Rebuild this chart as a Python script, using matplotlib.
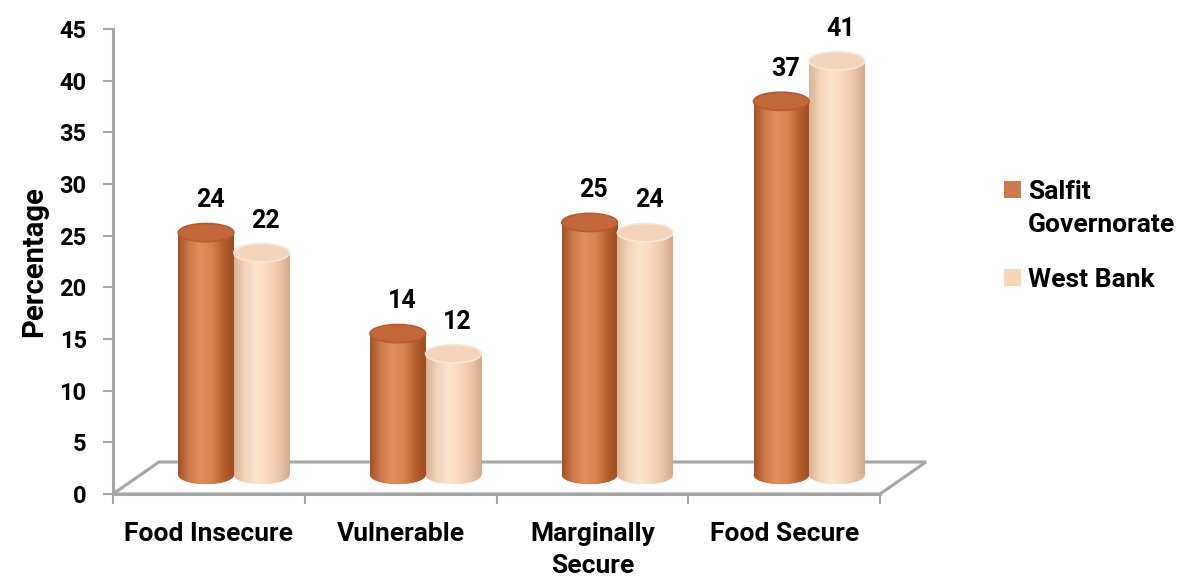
import matplotlib
matplotlib.use("Agg")
import numpy as np
import matplotlib.pyplot as plt
import matplotlib.patches as patches
from matplotlib.colors import LinearSegmentedColormap

categories = ["Food Insecure", "Vulnerable", "Marginally\nSecure", "Food Secure"]
series = ["Salfit\nGovernorate", "West Bank"]
salfit = [24, 14, 25, 37]
west_bank = [22, 12, 24, 41]
yticks = [0, 5, 10, 15, 20, 25, 30, 35, 40, 45]

FONT = "Roboto"
GRAY = "#a6a6a6"

# shading across each cylinder, left edge -> right edge
cmaps = [
    LinearSegmentedColormap.from_list("salfit", ["#a3522a", "#cf7a48", "#e08f5c", "#d98350", "#b9612f", "#9c4c24"]),
    LinearSegmentedColormap.from_list("wb", ["#d9b396", "#f3d3b8", "#fde4cd", "#f8dac0", "#ebc7aa", "#d2aa8c"]),
]
top_colors = ["#c4673a", "#f4d4ba"]
top_edges = ["#b45c30", "#fbe6d4"]
legend_colors = ["#cd7a4c", "#fbd5b5"]

W, H, DPI = 1187, 581, 100
fig = plt.figure(figsize=(W / DPI, H / DPI), dpi=DPI)

# front axis (ticks, floor)
ax = fig.add_axes([113 / W, 87 / H, 767 / W, 465 / H])
ax.set_xlim(0, 4)
ax.set_ylim(0, 45)
for s in ("top", "right"):
    ax.spines[s].set_visible(False)
for s in ("left", "bottom"):
    ax.spines[s].set_color(GRAY)
    ax.spines[s].set_linewidth(2.2)
ax.set_yticks(yticks)
ax.set_yticklabels([str(t) for t in yticks], fontsize=17, fontweight="bold", family=FONT)
ax.set_xticks(range(len(categories) + 1))
ax.set_xticklabels([])
ax.set_xticks(np.arange(len(categories)) + 0.5, categories, minor=True)
ax.tick_params(axis="both", which="major", color=GRAY, width=1.5, length=7)
ax.tick_params(axis="y", pad=12)
ax.tick_params(axis="x", which="minor", length=0, pad=20)
for lbl in ax.get_xticklabels(minor=True):
    lbl.set_fontsize(19)
    lbl.set_fontweight("bold")
    lbl.set_family(FONT)
    lbl.set_linespacing(1.45)
ax.set_ylabel("Percentage", fontsize=21, fontweight="bold", family=FONT, labelpad=8)

# floor parallelogram
dx, dy = 46 / 767, 32 / 465
floor = patches.Polygon([(0, 0), (1, 0), (1 + dx, dy), (dx, dy)], closed=True,
                        transform=ax.transAxes, facecolor="white", edgecolor=GRAY,
                        linewidth=2.2, clip_on=False, zorder=1)
ax.add_patch(floor)

# cylinder axes, shifted into depth
PX = 10.1      # pixels per unit for the cylinders
YLO = -2.0
ax2 = fig.add_axes([138 / W, (106 + YLO * PX) / H, 767 / W, (45 - YLO) * PX / H])
ax2.axis("off")
ax2.patch.set_alpha(0)

bw = 0.29
eh = 1.8
for k, vals in enumerate([salfit, west_bank]):
    xs = np.arange(len(categories)) + 0.5 + (k - 0.5) * bw
    bars = ax2.bar(xs, vals, width=bw, color=top_colors[k], linewidth=0, zorder=2)
    for x, v, bar in zip(xs, vals, bars):
        bottom = patches.Ellipse((x, 0), bw, eh, facecolor=top_colors[k], linewidth=0, zorder=2)
        ax2.add_patch(bottom)
        for clip in (bar, bottom):
            im = ax2.imshow(np.linspace(0, 1, 256).reshape(1, -1), cmap=cmaps[k], aspect="auto",
                            extent=[x - bw / 2, x + bw / 2, -eh, v], zorder=3)
            im.set_clip_path(clip)
        top = patches.Ellipse((x, v), bw, eh, facecolor=top_colors[k], edgecolor=top_edges[k],
                              linewidth=1.2, zorder=4)
        ax2.add_patch(top)
        ax2.annotate(str(v), (x, v + eh / 2), xytext=(3, 8), textcoords="offset points",
                     ha="center", va="bottom", fontsize=18, fontweight="bold", family=FONT,
                     annotation_clip=False)
ax2.set_xlim(0, 4)
ax2.set_ylim(YLO, 45)

# legend
leg_y = [190, 278]
for k, name in enumerate(series):
    y = leg_y[k]
    fig.patches.append(patches.Rectangle((1004 / W, 1 - (y + 8) / H), 17 / W, 17 / H,
                                         transform=fig.transFigure, facecolor=legend_colors[k],
                                         edgecolor="none"))
    fig.text(1028 / W, 1 - (y - 10) / H, name, ha="left", va="top", fontsize=19,
             fontweight="bold", family=FONT, linespacing=1.45)

fig.savefig("out.png", dpi=DPI)
